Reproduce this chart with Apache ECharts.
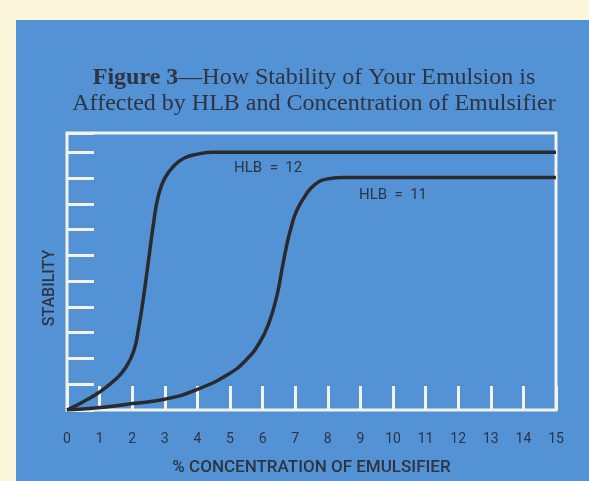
<!DOCTYPE html>
<html>
<head>
<meta charset="utf-8">
<script src="https://cdn.jsdelivr.net/npm/echarts@6/dist/echarts.min.js"></script>
<style>html,body{margin:0;padding:0;background:#fbf6dc;}#c{width:589px;height:481px;}</style>
</head>
<body>
<div id="c"></div>
<script>
// Data
var xTickLabels = ['0','1','2','3','4','5','6','7','8','9','10','11','12','13','14','15'];
var hlb12X = [0, 0.5, 1.0, 1.5, 1.8, 2.05, 2.2, 2.35, 2.5, 2.65, 2.8, 3.0, 3.3, 3.6, 4.0, 4.5, 6, 10, 15];
var hlb12Y = [0, 0.32, 0.7, 1.2, 1.65, 2.3, 3.2, 4.4, 5.8, 7.2, 8.3, 9.0, 9.5, 9.78, 9.93, 10, 10, 10, 10];
var hlb11X = [0, 1.2, 2, 3, 4, 5, 5.5, 5.9, 6.2, 6.45, 6.6, 6.75, 6.9, 7.05, 7.3, 7.6, 8.0, 8.5, 10, 12.5, 15];
var hlb11Y = [0, 0.12, 0.25, 0.42, 0.8, 1.43, 1.95, 2.6, 3.4, 4.5, 5.5, 6.45, 7.2, 7.75, 8.3, 8.75, 8.97, 9.02, 9.02, 9.02, 9.02];
var seriesNames = ['HLB  =  12', 'HLB  =  11'];
var labelPos = [[6.17, 9.4], [10.0, 8.34]];

function pairs(xs, ys) { return xs.map(function (x, i) { return [x, ys[i]]; }); }

var sans = 'Roboto, "Noto Sans", sans-serif';
var serif = '"Liberation Serif", "DejaVu Serif", serif';
var ink = '#2e3440';
var white = '#f4f3ea';

var chart = echarts.init(document.getElementById('c'), null, {renderer: 'canvas'});
chart.setOption({
  backgroundColor: '#fbf6dc',
  animation: false,
  graphic: [{
    type: 'rect', left: 16, top: 20, z: -10,
    shape: {width: 573, height: 461},
    style: {fill: '#5492d6'}
  }, {
    type: 'text', x: 50, y: 288, rotation: Math.PI / 2,
    style: {
      text: 'STABILITY', fill: ink, font: '500 16px ' + sans,
      textAlign: 'center', textVerticalAlign: 'middle'
    }
  }],
  title: {
    left: 309, top: 60, textAlign: 'center',
    text: '{b|Figure 3}{n|—How Stability of Your Emulsion is}\n{n|Affected by HLB and Concentration of Emulsifier}',
    textStyle: {
      fontWeight: 'normal',
      rich: {
        b: {fontFamily: serif, fontSize: 24, fontWeight: 'bold', color: ink, lineHeight: 26},
        n: {fontFamily: serif, fontSize: 24, fontWeight: 'normal', color: ink, lineHeight: 26}
      }
    }
  },
  grid: {
    left: 67, right: 33, top: 133, bottom: 63,
    show: true, borderColor: white, borderWidth: 3, backgroundColor: 'transparent'
  },
  xAxis: {
    type: 'value', min: 0, max: 15, interval: 1,
    axisLine: {show: false},
    axisTick: {show: true, inside: true, length: 24, lineStyle: {color: white, width: 3}},
    splitLine: {show: false},
    axisLabel: {
      color: ink, fontFamily: sans, fontSize: 14, margin: 22,
      formatter: function (v) { return xTickLabels[Math.round(v)]; }
    },
    name: '% CONCENTRATION OF EMULSIFIER',
    nameLocation: 'middle', nameGap: 49,
    nameTextStyle: {color: ink, fontFamily: sans, fontSize: 17, fontWeight: 500}
  },
  yAxis: {
    type: 'value', min: 0, max: 10.75, interval: 1,
    axisLine: {show: false},
    axisTick: {show: true, inside: true, length: 27, lineStyle: {color: white, width: 3}},
    splitLine: {show: false},
    axisLabel: {show: false}
  },
  series: [0, 1].map(function (k) {
    return {
      name: seriesNames[k],
      type: 'line',
      data: k === 0 ? pairs(hlb12X, hlb12Y) : pairs(hlb11X, hlb11Y),
      smooth: 0.5,
      showSymbol: false, symbol: 'none',
      lineStyle: {color: '#2a2a2e', width: 3.5},
      z: 3,
      markPoint: {
        symbol: 'circle', symbolSize: 0,
        data: [{coord: labelPos[k]}],
        label: {
          show: true, position: 'inside', formatter: seriesNames[k],
          color: ink, fontFamily: sans, fontSize: 15
        }
      }
    };
  })
});
</script>
</body>
</html>
